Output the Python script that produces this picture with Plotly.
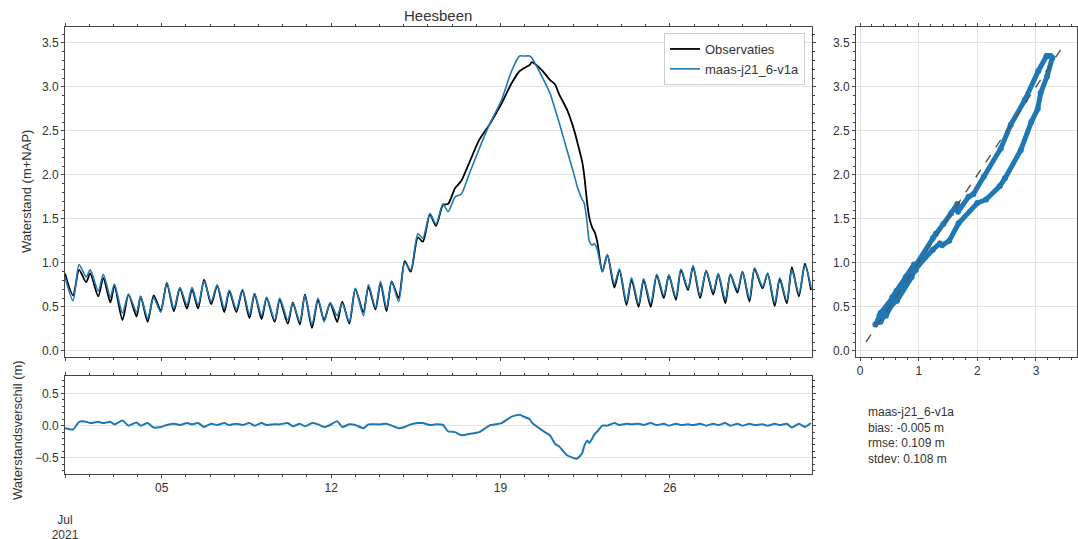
import pandas as pd
import plotly.graph_objects as go

# ---------------- data ----------------
hours = [0, 8, 14, 21, 25, 33, 38, 45, 49, 57, 63, 71, 75, 82, 88, 95, 101, 108, 114, 121,
         126, 132, 138, 145, 151, 158, 163, 170, 176, 183, 188, 195, 200, 208, 213, 221, 226,
         233, 238, 245, 251, 257, 263, 270, 275, 282, 288, 296, 301, 308, 313, 319, 324, 331,
         337, 343, 350, 355, 362, 368, 375, 380, 387, 393, 400, 411, 421, 433, 443, 451, 455,
         461, 463, 473, 481, 486, 490, 498, 506, 508, 513, 515, 518, 520, 523, 525, 528, 533,
         538, 545, 550, 557, 562, 569, 574, 581, 587, 594, 599, 606, 611, 618, 623, 630, 636,
         643, 648, 655, 660, 667, 672, 679, 684, 692, 697, 704, 709, 716, 721, 728, 734, 740]

observaties = [0.88, 0.63, 0.92, 0.78, 0.88, 0.62, 0.83, 0.55, 0.74, 0.35, 0.64, 0.39, 0.62, 0.33,
               0.63, 0.46, 0.77, 0.45, 0.71, 0.48, 0.70, 0.48, 0.81, 0.53, 0.74, 0.44, 0.68, 0.44,
               0.69, 0.37, 0.65, 0.36, 0.60, 0.33, 0.58, 0.31, 0.55, 0.30, 0.64, 0.26, 0.58, 0.35,
               0.54, 0.33, 0.56, 0.31, 0.70, 0.44, 0.73, 0.47, 0.77, 0.45, 0.79, 0.60, 1.02, 0.90,
               1.29, 1.24, 1.55, 1.42, 1.66, 1.67, 1.85, 1.93, 2.11, 2.40, 2.57, 2.81, 3.04, 3.18,
               3.21, 3.25, 3.28, 3.19, 3.08, 3.03, 2.92, 2.74, 2.47, 2.38, 2.15, 2.00, 1.68, 1.52,
               1.40, 1.36, 1.24, 0.90, 1.09, 0.72, 0.92, 0.52, 0.81, 0.50, 0.81, 0.50, 0.86, 0.60,
               0.86, 0.58, 0.92, 0.69, 0.96, 0.60, 0.91, 0.64, 0.87, 0.54, 0.87, 0.66, 0.90, 0.56,
               0.93, 0.71, 0.88, 0.51, 0.82, 0.54, 0.95, 0.62, 0.99, 0.69]

model = [0.84, 0.57, 0.98, 0.84, 0.92, 0.68, 0.87, 0.61, 0.76, 0.43, 0.64, 0.44, 0.62, 0.37,
         0.60, 0.44, 0.78, 0.48, 0.72, 0.52, 0.72, 0.52, 0.79, 0.56, 0.75, 0.48, 0.69, 0.47,
         0.70, 0.41, 0.65, 0.40, 0.61, 0.35, 0.60, 0.35, 0.54, 0.33, 0.63, 0.30, 0.60, 0.33,
         0.55, 0.40, 0.54, 0.33, 0.71, 0.40, 0.75, 0.49, 0.79, 0.48, 0.79, 0.56, 1.00, 0.92,
         1.33, 1.28, 1.56, 1.44, 1.67, 1.58, 1.75, 1.78, 1.98, 2.30, 2.57, 2.85, 3.18, 3.35,
         3.35, 3.35, 3.33, 3.12, 2.93, 2.75, 2.60, 2.28, 1.96, 1.87, 1.72, 1.68, 1.45, 1.25,
         1.20, 1.22, 1.15, 0.90, 1.09, 0.76, 0.93, 0.55, 0.83, 0.53, 0.82, 0.54, 0.87, 0.63,
         0.86, 0.61, 0.93, 0.71, 0.97, 0.63, 0.91, 0.67, 0.88, 0.58, 0.87, 0.69, 0.90, 0.59,
         0.94, 0.73, 0.88, 0.54, 0.83, 0.57, 0.92, 0.65, 0.97, 0.73]

start_date = "2021-07-01"
end_date = "2021-07-31 21:00"
date_ticks = ["2021-07-01", "2021-07-05", "2021-07-12", "2021-07-19", "2021-07-26"]
date_labels = ["<br><br>Jul<br>2021", "05", "12", "19", "26"]
diag = [0.1, 3.5]

title = "Heesbeen"
obs_name = "Observaties"
mod_name = "maas-j21_6-v1a"
stats_text = "maas-j21_6-v1a<br>bias: -0.005 m<br>rmse: 0.109 m<br>stdev: 0.108 m"

# ---------------- derived ----------------
times = pd.Timestamp(start_date) + pd.to_timedelta(hours, unit="h")
diff = [m - o for m, o in zip(model, observaties)]

BLUE = "#1f77b4"
W, H = 1078, 539


def px(x):
    return x / W


def py(y):
    return 1 - y / H


FONT = "Liberation Sans, Arial, sans-serif"
TXT = "#333333"
SM = 0.7

fig = go.Figure()
fig.add_trace(go.Scatter(x=times, y=observaties, name=obs_name, mode="lines",
                         line=dict(color="black", width=1.8, shape="spline", smoothing=SM),
                         xaxis="x", yaxis="y"))
fig.add_trace(go.Scatter(x=times, y=model, name=mod_name, mode="lines",
                         line=dict(color=BLUE, width=1.6, shape="spline", smoothing=SM),
                         xaxis="x", yaxis="y"))
fig.add_trace(go.Scatter(x=times, y=diff, mode="lines", showlegend=False,
                         line=dict(color=BLUE, width=2, shape="spline", smoothing=0.5),
                         xaxis="x2", yaxis="y2"))
fig.add_trace(go.Scatter(x=observaties, y=model, mode="lines+markers", showlegend=False,
                         line=dict(color=BLUE, width=5), marker=dict(color=BLUE, size=6),
                         xaxis="x3", yaxis="y3"))
fig.add_trace(go.Scatter(x=diag, y=diag, mode="lines", showlegend=False,
                         line=dict(color="#555555", width=1.4, dash="dash"),
                         xaxis="x3", yaxis="y3"))

common = dict(showline=True, linecolor="#444444", linewidth=1, mirror="ticks",
              ticks="outside", ticklen=3, tickcolor="#444444", zeroline=False,
              automargin=False, tickfont=dict(family=FONT, size=12, color=TXT),
              gridcolor="#e3e3e3", gridwidth=1)

main_x = [px(65), px(812)]
fig.update_layout(
    width=W, height=H,
    margin=dict(l=0, r=0, t=0, b=0),
    paper_bgcolor="white", plot_bgcolor="white",
    font=dict(family=FONT, size=12, color=TXT),
    xaxis=dict(domain=main_x, anchor="y", range=[start_date, end_date],
               tickvals=date_ticks, showticklabels=False, showgrid=False,
               minor=dict(ticks="outside", ticklen=2, dtick=86400000, tickcolor="#444444"),
               **common),
    yaxis=dict(domain=[py(357), py(27)], anchor="x", range=[-0.07, 3.68], dtick=0.5,
               tickformat=".1f", showgrid=True,
               minor=dict(ticks="outside", ticklen=2, dtick=0.1, tickcolor="#444444"),
               **common),
    xaxis2=dict(domain=main_x, anchor="y2", range=[start_date, end_date],
                tickvals=date_ticks, ticktext=date_labels, showgrid=False,
                minor=dict(ticks="outside", ticklen=2, dtick=86400000, tickcolor="#444444"),
                **common),
    yaxis2=dict(domain=[py(474), py(376)], anchor="x2", range=[-0.75, 0.77], dtick=0.5,
                tickformat=".1f", showgrid=True,
                minor=dict(ticks="outside", ticklen=2, dtick=0.1, tickcolor="#444444"),
                **common),
    xaxis3=dict(domain=[px(856), px(1077)], anchor="y3", range=[-0.07, 3.7], dtick=1,
                showgrid=True,
                minor=dict(ticks="outside", ticklen=2, dtick=0.2, tickcolor="#444444"),
                **common),
    yaxis3=dict(domain=[py(357), py(27)], anchor="x3", range=[-0.07, 3.68], dtick=0.5,
                tickformat=".1f", showgrid=True,
                minor=dict(ticks="outside", ticklen=2, dtick=0.1, tickcolor="#444444"),
                **common),
    legend=dict(x=px(805), xanchor="right", y=py(33), yanchor="top",
                bgcolor="white", bordercolor="#cccccc", borderwidth=1,
                font=dict(family=FONT, size=13, color=TXT), tracegroupgap=0),
    annotations=[
        dict(text=title, x=px(438), y=py(15), xref="paper", yref="paper",
             xanchor="center", yanchor="middle",
             showarrow=False, font=dict(family=FONT, size=15, color=TXT)),
        dict(text="Waterstand (m+NAP)", x=px(26), y=py(192), xref="paper", yref="paper",
             xanchor="center", yanchor="middle",
             textangle=-90, showarrow=False, font=dict(family=FONT, size=13, color=TXT)),
        dict(text="Waterstandsverschil (m)", x=px(17), y=py(430), xref="paper", yref="paper",
             xanchor="center", yanchor="middle",
             textangle=-90, showarrow=False, font=dict(family=FONT, size=13, color=TXT)),
        dict(text=stats_text, x=px(866), y=py(403), xref="paper", yref="paper",
             xanchor="left", yanchor="top", align="left", showarrow=False,
             font=dict(family=FONT, size=12, color=TXT)),
    ],
)

fig.write_html("out.html")
